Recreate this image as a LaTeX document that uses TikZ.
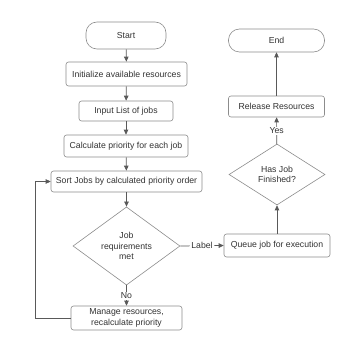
\documentclass[tikz,border=0pt]{standalone}
\usepackage{fontspec}
\setmainfont{Liberation Sans}
\usetikzlibrary{arrows.meta,shapes.geometric}
\begin{document}
\begin{tikzpicture}[x=1pt,y=-1pt,
  font=\fontsize{8.7}{10.5}\selectfont,
  every node/.style={text=black!80},
  box/.style={draw=black!45,fill=white,rounded corners=2.5pt,line width=0.6pt,inner sep=0pt,align=center},
  term/.style={box,rounded corners=11pt},
  dec/.style={diamond,draw=black!45,fill=white,line width=0.6pt,inner sep=0pt,align=center},
  arr/.style={draw=black!65,line width=0.7pt,-{Triangle[length=5pt,width=4.5pt]}},
  lab/.style={fill=white,inner sep=1pt}]
\useasboundingbox (0,0) rectangle (338,337);
\node[term,minimum width=80pt,minimum height=27pt] (start) at (126,35.5) {Start};
\node[box,minimum width=121pt,minimum height=24pt] (init) at (126.5,74) {Initialize available resources};
\node[box,minimum width=94pt,minimum height=20pt] (input) at (126,111) {Input List of jobs};
\node[box,minimum width=124pt,minimum height=22pt] (calc) at (126,146) {Calculate priority for each job};
\node[box,minimum width=151pt,minimum height=21pt] (sort) at (126.5,181.5) {Sort Jobs by calculated priority order};
\node[dec,minimum width=107pt,minimum height=62pt] (job) at (126.5,246) {Job\\requirements\\met};
\node[box,minimum width=111pt,minimum height=24pt] (manage) at (126.5,318) {Manage resources,\\recalculate priority};
\node[box,minimum width=106pt,minimum height=23pt] (queue) at (277,245.5) {Queue job for execution};
\node[dec,minimum width=96pt,minimum height=61pt] (has) at (277,174.5) {Has Job\\Finished?};
\node[box,minimum width=96pt,minimum height=21pt] (release) at (276.5,106.5) {Release Resources};
\node[term,minimum width=96pt,minimum height=23pt] (end) at (276.5,40.5) {End};
\coordinate (lpb) at (35,318);
\coordinate (lpt) at (35,181.5);
\draw[arr] (start) -- (init);
\draw[arr] (init) -- (input);
\draw[arr] (input) -- (calc);
\draw[arr] (calc) -- (sort);
\draw[arr] (sort) -- (job);
\draw[arr] (job) -- node[lab] {No} (manage);
\draw[arr] (job.east) -- node[lab] {Label} (queue.west);
\draw[arr] (queue) -- (has);
\draw[arr] (has) -- node[lab] {Yes} (release);
\draw[arr] (release) -- (end);
\draw[arr] (manage.west) -- (lpb) -- (lpt) -- (sort.west);
\end{tikzpicture}
\end{document}
